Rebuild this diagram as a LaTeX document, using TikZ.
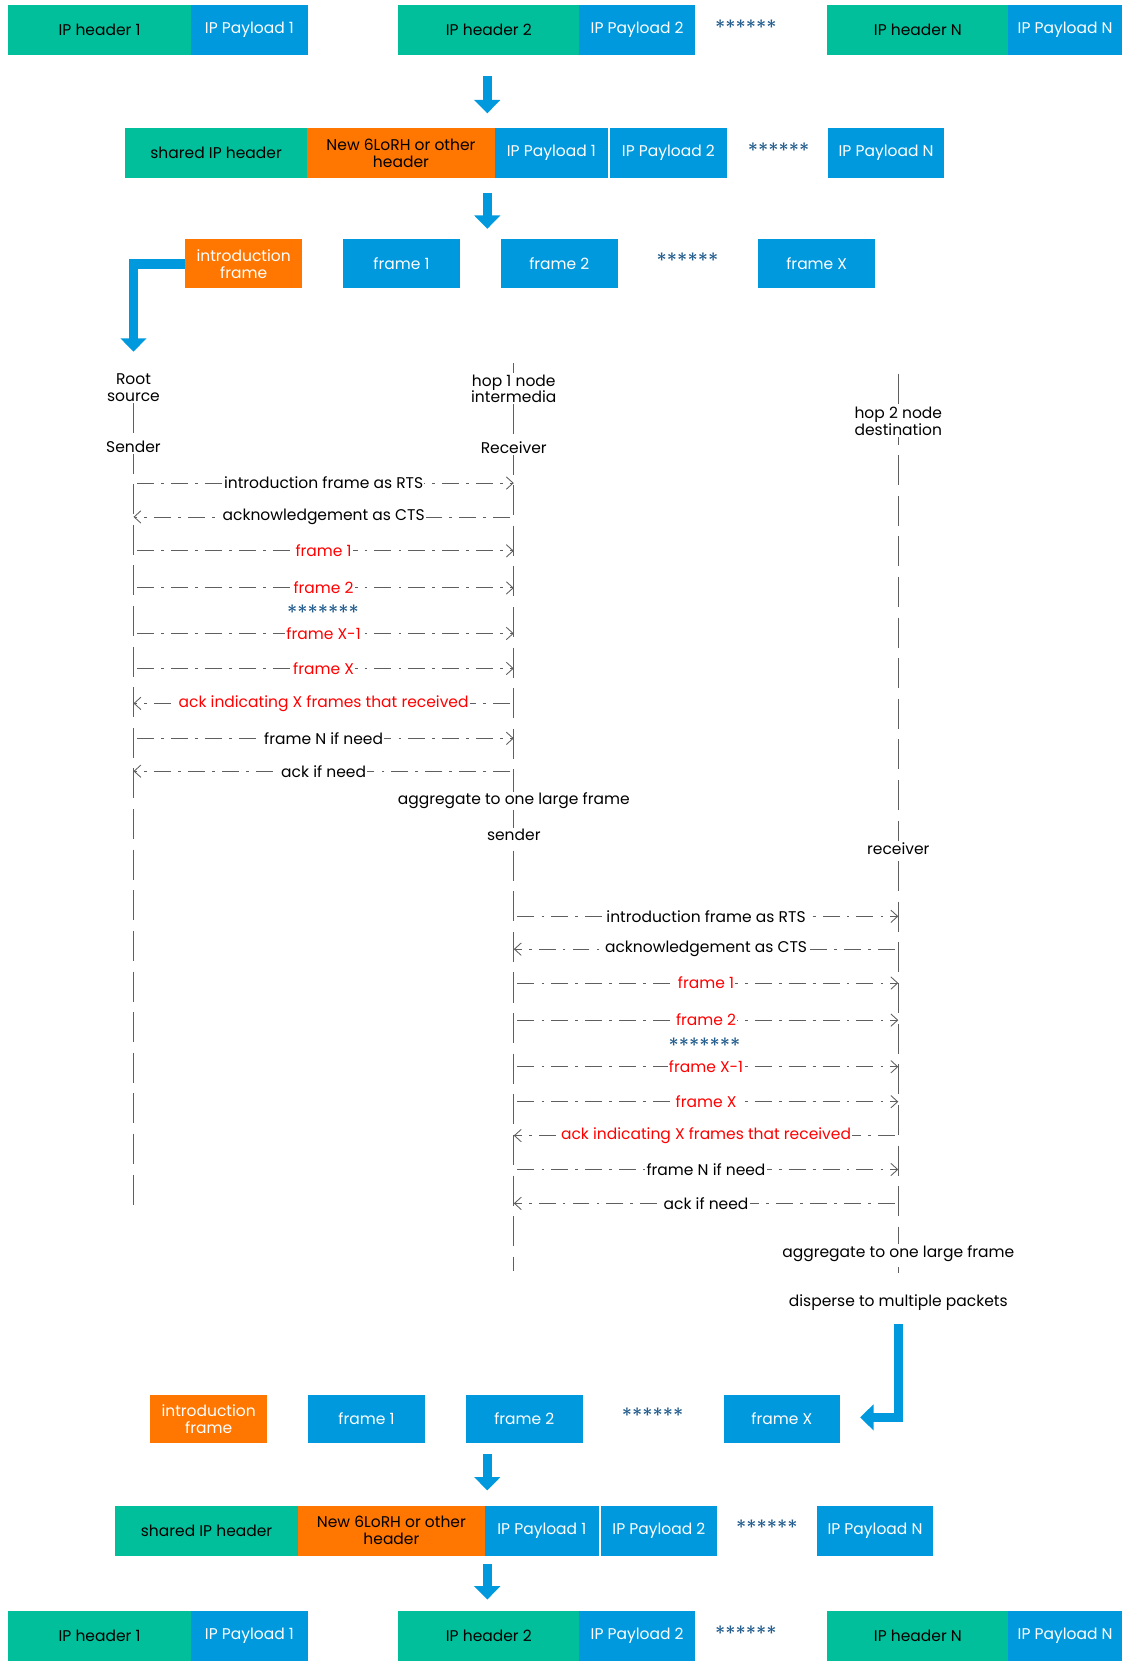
\documentclass[tikz,border=0pt]{standalone}
\usepackage{fontspec}
\setmainfont{Poppins}
\definecolor{ipgreen}{RGB}{0,191,154}
\definecolor{ipblue}{RGB}{0,153,222}
\definecolor{iporange}{RGB}{255,118,0}
\definecolor{stardark}{RGB}{31,90,140}
\definecolor{msggray}{RGB}{95,95,95}
\usetikzlibrary{positioning, arrows.meta}

\begin{document}
\begin{tikzpicture}[x=0.03cm, y=-0.03cm,
    seg/.style={minimum height=1.41cm, inner sep=1pt, align=center, font=\fontsize{12.5}{13.6}\selectfont},
    hdr/.style={seg, fill=ipgreen, text=black},
    pay/.style={seg, fill=ipblue, text=white},
    lorh/.style={seg, fill=iporange, text=black, minimum width=5.31cm},
    intro/.style={seg, fill=iporange, text=white, minimum width=3.3cm, minimum height=1.38cm},
    frm/.style={seg, fill=ipblue, text=white, minimum width=3.3cm, minimum height=1.38cm},
    stars/.style={text=stardark, inner sep=0pt, font=\fontsize{17}{17}\selectfont},
    blk/.style={ipblue, line width=0.27cm, -{Triangle[width=0.72cm, length=0.38cm]}},
    who/.style={fill=white, align=center, inner sep=1pt, font=\fontsize{12.5}{13.4}\selectfont},
    life/.style={msggray, line width=0.8pt, dash pattern=on 0.85cm off 0.3cm},
    msg/.style={msggray, line width=0.7pt, shorten <=3pt, dash pattern=on 0.48cm off 0.2cm on 0.08cm off 0.2cm, -{Straight Barb[length=5.5pt, width=10pt]}},
    lbl/.style={fill=white, inner sep=1pt, text=black, font=\fontsize{12.5}{13}\selectfont},
    hot/.style={lbl, text=red}
  ]
  \useasboundingbox (0,0) rectangle (1059,1568);

  \node[hdr, minimum width=5.16cm] (h1) at (94,28.5) {IP header 1};
  \node[pay, minimum width=3.33cm] (p1) at (235.5,28.5) {IP Payload 1};
  \node[hdr, minimum width=5.13cm] (h2) at (461.5,28.5) {IP header 2};
  \node[pay, minimum width=3.27cm] (p2) at (601.5,28.5) {IP Payload 2};
  \node[stars] (s1) at (704,26) {******};
  \node[hdr, minimum width=5.13cm] (hn) at (866.5,28.5) {IP header N};
  \node[pay, minimum width=3.21cm] (pn) at (1005.5,28.5) {IP Payload N};

  \node[hdr, minimum width=5.16cm] (sh) at (204,144.5) {shared IP header};
  \node[lorh] (lo) at (378.5,144.5) {New 6LoRH or other\\header};
  \node[pay, minimum width=3.21cm] (q1) at (520.5,144.5) {IP Payload 1};
  \node[pay, minimum width=3.3cm] (q2) at (631,144.5) {IP Payload 2};
  \node[stars] (s2) at (735,142) {******};
  \node[pay, minimum width=3.27cm] (qn) at (836.5,144.5) {IP Payload N};

  \node[intro] (in) at (230,249) {introduction\\frame};
  \node[frm] (f1) at (379,249) {frame 1};
  \node[frm] (f2) at (528,249) {frame 2};
  \node[stars] (s3) at (649,246) {******};
  \node[frm] (fx) at (771,249) {frame X};

  \coordinate (a1s) at (460,72);
  \coordinate (a1e) at (460,107);
  \coordinate (a2s) at (460,182);
  \coordinate (a2e) at (460,216);
  \coordinate (a3e) at (126,332);
  \draw[blk] (a1s) -- (a1e);
  \draw[blk] (a2s) -- (a2e);
  \draw[blk] (in.west) -| (a3e);

  \node[who] (root) at (126,366) {Root\\source};
  \coordinate (rootend) at (126,1140);
  \coordinate (hoptop) at (485,343);
  \coordinate (hopend) at (485,1200);
  \coordinate (dsttop) at (848,353);
  \coordinate (dstend) at (848,1202);
  \draw[life] (root.south) -- (rootend);
  \draw[life] (hoptop) -- (hopend);
  \draw[life] (dsttop) -- (dstend);

  \node[who] (snd) at (126,422) {Sender};
  \node[who] (hop) at (485,367) {hop 1 node\\intermedia};
  \node[who] (rcv) at (485,423) {Receiver};
  \node[who] (dst) at (848,398) {hop 2 node\\destination};

  \draw[msg] (snd |- 0,456) -- node[lbl] {introduction frame as RTS} (rcv |- 0,456);
  \draw[msg] (rcv |- 0,488) -- node[lbl] {acknowledgement as CTS} (snd |- 0,488);
  \draw[msg] (snd |- 0,520) -- node[hot] {frame 1} (rcv |- 0,520);
  \draw[msg] (snd |- 0,555) -- node[hot] {frame 2} (rcv |- 0,555);
  \node[stars] (s4) at (305,578) {*******};
  \draw[msg] (snd |- 0,598) -- node[hot] {frame X-1} (rcv |- 0,598);
  \draw[msg] (snd |- 0,631) -- node[hot] {frame X} (rcv |- 0,631);
  \draw[msg] (rcv |- 0,664) -- node[hot] {ack indicating X frames that received} (snd |- 0,664);
  \draw[msg] (snd |- 0,697) -- node[lbl] {frame N if need} (rcv |- 0,697);
  \draw[msg] (rcv |- 0,728) -- node[lbl] {ack if need} (snd |- 0,728);

  \node[who] (agg1) at (485,756) {aggregate to one large frame};
  \node[who] (snd2) at (485,788) {sender};
  \node[who] (rcv2) at (848,801) {receiver};

  \draw[msg] (snd2 |- 0,865) -- node[lbl] {introduction frame as RTS} (rcv2 |- 0,865);
  \draw[msg] (rcv2 |- 0,896) -- node[lbl] {acknowledgement as CTS} (snd2 |- 0,896);
  \draw[msg] (snd2 |- 0,928) -- node[hot] {frame 1} (rcv2 |- 0,928);
  \draw[msg] (snd2 |- 0,963) -- node[hot] {frame 2} (rcv2 |- 0,963);
  \node[stars] (s5) at (665,987) {*******};
  \draw[msg] (snd2 |- 0,1007) -- node[hot] {frame X-1} (rcv2 |- 0,1007);
  \draw[msg] (snd2 |- 0,1040) -- node[hot] {frame X} (rcv2 |- 0,1040);
  \draw[msg] (rcv2 |- 0,1072) -- node[hot] {ack indicating X frames that received} (snd2 |- 0,1072);
  \draw[msg] (snd2 |- 0,1104) -- node[lbl] {frame N if need} (rcv2 |- 0,1104);
  \draw[msg] (rcv2 |- 0,1136) -- node[lbl] {ack if need} (snd2 |- 0,1136);

  \node[who] (agg2) at (848,1183) {aggregate to one large frame};
  \node[who] (disp) at (848,1230) {disperse to multiple packets};

  \node[intro] (inb) at (197,1339.5) {introduction\\frame};
  \node[frm] (f1b) at (346,1339.5) {frame 1};
  \node[frm] (f2b) at (495,1339.5) {frame 2};
  \node[stars] (s6) at (616,1336) {******};
  \node[frm] (fxb) at (738,1339.5) {frame X};

  \node[hdr, minimum width=5.16cm] (shb) at (195,1445) {shared IP header};
  \node[lorh] (lob) at (369.5,1445) {New 6LoRH or other\\header};
  \node[pay, minimum width=3.21cm] (q1b) at (511.5,1445) {IP Payload 1};
  \node[pay, minimum width=3.3cm] (q2b) at (622,1445) {IP Payload 2};
  \node[stars] (s7) at (724,1442) {******};
  \node[pay, minimum width=3.27cm] (qnb) at (826,1445) {IP Payload N};

  \node[hdr, minimum width=5.16cm] (h1b) at (94,1544.5) {IP header 1};
  \node[pay, minimum width=3.33cm] (p1b) at (235.5,1544.5) {IP Payload 1};
  \node[hdr, minimum width=5.13cm] (h2b) at (461.5,1544.5) {IP header 2};
  \node[pay, minimum width=3.27cm] (p2b) at (601.5,1544.5) {IP Payload 2};
  \node[stars] (s8) at (704,1542) {******};
  \node[hdr, minimum width=5.13cm] (hnb) at (866.5,1544.5) {IP header N};
  \node[pay, minimum width=3.21cm] (pnb) at (1005.5,1544.5) {IP Payload N};

  \coordinate (b1s) at (848,1250);
  \coordinate (b1e) at (812,1338);
  \coordinate (b2s) at (460,1373);
  \coordinate (b2e) at (460,1407);
  \coordinate (b3s) at (460,1476);
  \coordinate (b3e) at (460,1510);
  \draw[blk] (b1s) |- (b1e);
  \draw[blk] (b2s) -- (b2e);
  \draw[blk] (b3s) -- (b3e);
\end{tikzpicture}
\end{document}
